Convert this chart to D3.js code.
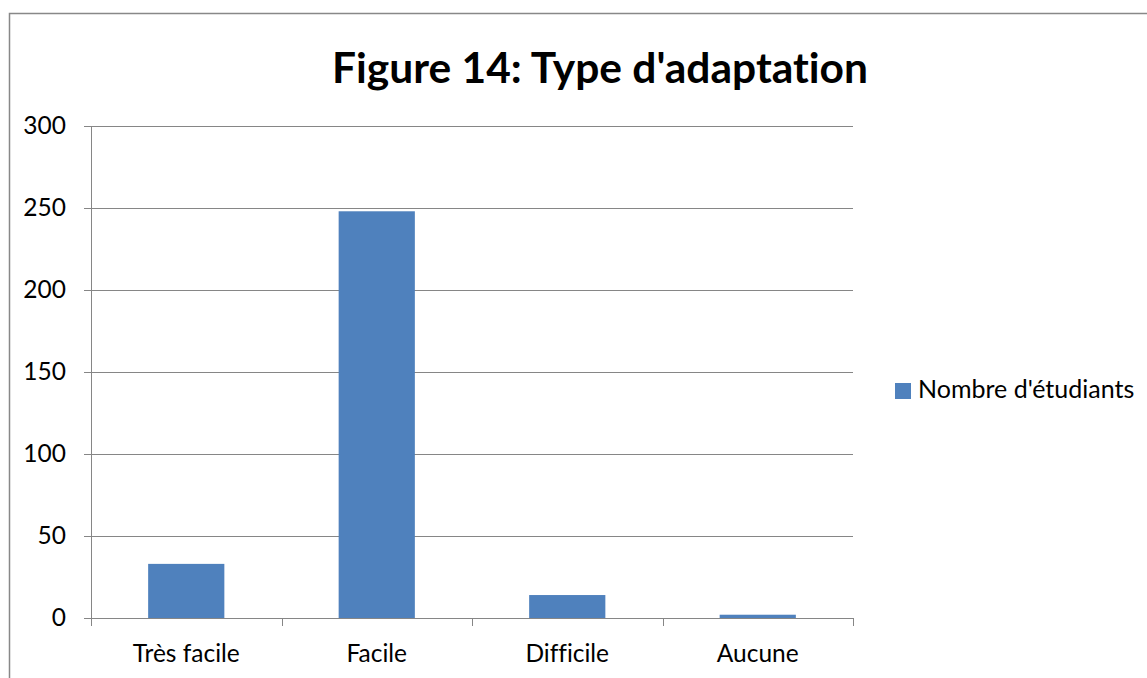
<!DOCTYPE html>
<html>
<head>
<meta charset="utf-8">
<script src="https://cdn.jsdelivr.net/npm/d3@7"></script>
<style>
  body { margin: 0; background: #fff; }
  text { font-family: Lato, "Open Sans", sans-serif; fill: #000; font-variant-ligatures: none; font-feature-settings: "liga" 0, "clig" 0; }
</style>
</head>
<body>
<div id="chart"></div>
<script>
// data
var categories = ["Très facile", "Facile", "Difficile", "Aucune"];
var values = [33, 248, 14, 2];
var yTicks = [0, 50, 100, 150, 200, 250, 300];
var seriesName = "Nombre d'étudiants";
var title = "Figure 14: Type d'adaptation";

var W = 1147, H = 678;
var margin = {top: 126, left: 91},
    width = 853 - 91,
    height = 618 - 126;
var labelSize = "24.5px";

var svg = d3.select("#chart")
  .append("svg")
    .attr("width", W)
    .attr("height", H);

// outer chart border
svg.append("rect")
  .attr("x", 9.5).attr("y", 13.5)
  .attr("width", W + 20).attr("height", H + 20)
  .attr("fill", "none")
  .attr("stroke", "#888")
  .attr("stroke-width", 1.5);

svg.append("text")
  .attr("x", 600).attr("y", 83)
  .attr("text-anchor", "middle")
  .attr("font-size", "42.5px")
  .attr("font-weight", "bold")
  .text(title);

var g = svg.append("g")
  .attr("transform", "translate(" + margin.left + "," + margin.top + ")");

var x = d3.scaleBand()
  .domain(categories)
  .range([0, width])
  .paddingInner(0.6)
  .paddingOuter(0.3);

var y = d3.scaleLinear()
  .domain([0, 300])
  .range([height, 0]);

// gridlines
g.selectAll(".grid")
  .data(yTicks)
  .enter().append("line")
    .attr("x1", -7).attr("x2", width)
    .attr("y1", function(d) { return Math.round(y(d)) + 0.5; })
    .attr("y2", function(d) { return Math.round(y(d)) + 0.5; })
    .attr("stroke", "#868686")
    .attr("stroke-width", 1);

// y axis
var yAxis = g.append("g")
  .call(d3.axisLeft(y).tickValues(yTicks).tickSize(7).tickPadding(18));
yAxis.select(".domain").attr("stroke", "#868686");
yAxis.selectAll(".tick line").attr("stroke", "#868686");
yAxis.selectAll("text").attr("font-size", labelSize).attr("font-family", "Lato, 'Open Sans', sans-serif").attr("fill", "#000");

// x axis with ticks between categories
var step = width / categories.length;
var xAxis = g.append("g")
  .attr("transform", "translate(0," + height + ")")
  .call(d3.axisBottom(x).tickSize(0).tickPadding(27));
xAxis.select(".domain").attr("stroke", "#868686");
xAxis.selectAll("text").attr("font-size", labelSize).attr("font-family", "Lato, 'Open Sans', sans-serif").attr("fill", "#000");
g.selectAll(".xtick")
  .data(d3.range(categories.length + 1))
  .enter().append("line")
    .attr("x1", function(i) { return Math.round(i * step) + 0.5; })
    .attr("x2", function(i) { return Math.round(i * step) + 0.5; })
    .attr("y1", height).attr("y2", height + 8)
    .attr("stroke", "#868686");

// bars
g.selectAll("rect.bar")
  .data(values)
  .enter().append("rect")
    .attr("class", "bar")
    .attr("x", function(d, i) { return x(categories[i]); })
    .attr("y", function(d) { return y(d); })
    .attr("width", x.bandwidth())
    .attr("height", function(d) { return height - y(d); })
    .attr("fill", "#4F81BD");

// legend
var legend = svg.append("g").attr("transform", "translate(895,383)");
legend.append("rect")
  .attr("width", 16).attr("height", 16)
  .attr("fill", "#4F81BD");
legend.append("text")
  .attr("x", 23).attr("y", 15)
  .attr("font-size", "25px")
  .text(seriesName);
</script>
</body>
</html>
